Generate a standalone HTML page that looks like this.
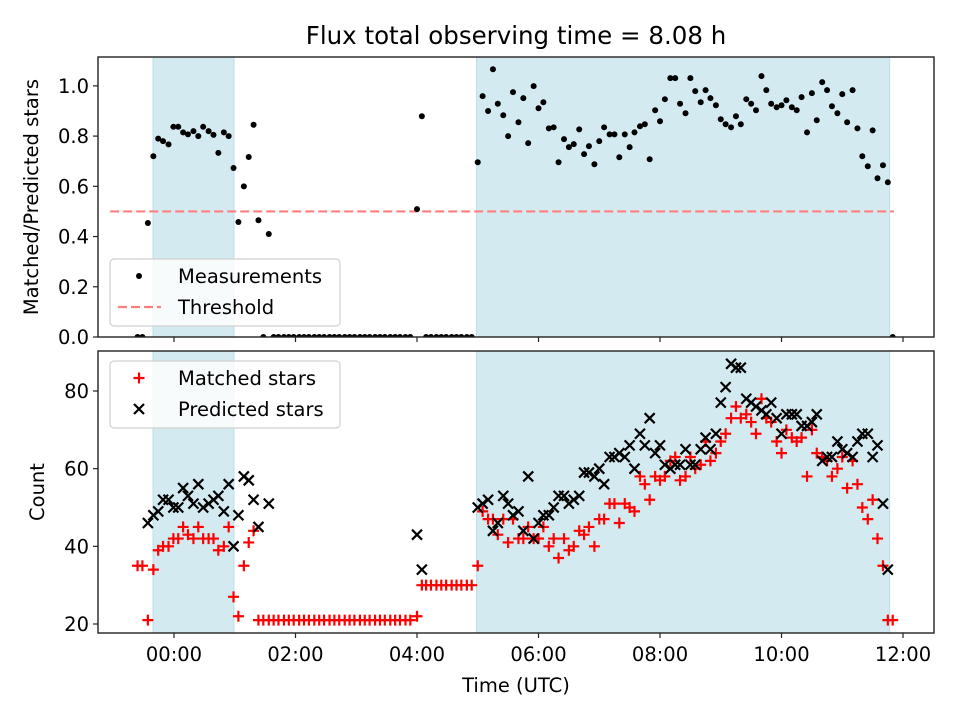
<!DOCTYPE html>
<html><head><meta charset="utf-8"><style>
html,body{margin:0;padding:0;background:#fff}
svg{display:block;font-family:"DejaVu Sans","Liberation Sans",sans-serif}
</style></head><body>
<svg id="chart" width="960" height="720" viewBox="0 0 960 720" xmlns="http://www.w3.org/2000/svg"></svg>
<script>
// ---- data ----
const times = [-0.60,-0.52,-0.43,-0.34,-0.26,-0.18,-0.09,-0.01,0.07,0.15,0.23,0.32,0.40,0.48,0.57,0.65,0.73,0.82,0.90,0.98,1.06,1.15,1.23,1.31,1.39,1.47,1.56,
1.64,1.72,1.81,1.89,1.97,2.06,2.14,2.22,2.31,2.39,2.47,2.56,2.64,2.72,2.81,2.89,2.97,3.06,3.14,3.22,3.31,3.39,3.47,3.56,3.64,3.72,3.81,3.89,
4.00,4.08,4.15,4.23,4.32,4.40,4.48,4.57,4.65,4.73,4.82,4.90,
5.00,5.08,5.17,5.25,5.33,5.42,5.50,5.58,5.67,5.75,5.83,5.92,6.00,6.08,6.17,6.25,6.33,6.42,6.50,6.58,6.67,6.75,6.83,6.92,7.00,7.08,7.17,7.25,7.33,7.42,7.50,7.58,7.67,7.75,7.83,7.92,8.00,8.08,8.17,8.25,8.33,8.42,8.50,8.58,8.67,8.75,8.83,8.92,9.00,9.08,9.17,9.25,9.33,9.42,9.50,9.58,9.67,9.75,9.83,9.92,10.00,10.08,10.17,10.25,10.33,10.42,10.50,10.58,10.67,10.75,10.83,10.92,11.00,11.08,11.17,11.25,11.33,11.42,11.50,11.58,11.67,11.75,11.83];
const ratio = [0,0,0.454,0.72,0.79,0.78,0.767,0.837,0.837,0.815,0.807,0.82,0.80,0.837,0.82,0.805,0.733,0.815,0.80,0.673,0.458,0.60,0.717,0.845,0.465,0,0.41,
0,0,0,0,0,0,0,0,0,0,0,0,0,0,0,0,0,0,0,0,0,0,0,0,0,0,0,0,
0.509,0.879,0,0,0,0,0,0,0,0,0,0,
0.696,0.959,0.90,1.066,0.929,0.883,0.80,0.975,0.855,0.951,0.772,0.999,0.911,0.935,0.831,0.835,0.696,0.788,0.756,0.768,0.827,0.728,0.76,0.688,0.78,0.835,0.807,0.807,0.716,0.807,0.756,0.815,0.839,0.847,0.708,0.903,0.859,0.947,1.031,1.031,0.929,0.891,1.031,0.979,0.935,0.983,0.951,0.923,0.867,0.847,0.835,0.879,0.847,0.947,0.929,0.903,1.039,0.983,0.929,0.915,0.923,0.943,0.915,0.903,0.955,0.815,0.971,0.863,1.015,0.983,0.919,0.891,0.967,0.855,0.983,0.831,0.72,0.68,0.823,0.632,0.684,0.616,0];
const matched = [35,35,21,34,39,40,40,42,42,45,43,42,45,42,42,42,39,40,45,27,22,35,41,44,21,21,21,
21,21,21,21,21,21,21,21,21,21,21,21,21,21,21,21,21,21,21,21,21,21,21,21,21,21,21,21,
22,30,30,30,30,30,30,30,30,30,30,30,
35,49,47,47,43,47,41,47,42,42,45,42,42,45,40,42,37,42,39,40,44,43,45,40,47,47,51,51,46,51,50,49,58,56,52,58,57,58,62,63,57,58,63,60,61,67,62,64,67,69,73,76,73,74,72,69,78,73,72,67,64,70,68,67,68,58,70,64,63,62,58,60,63,55,62,56,50,47,52,42,35,21,21];
const predicted = [null,null,46,48,49,52,52,50,50,55,53,51,56,50,51,52,53,49,56,40,48,58,57,52,45,null,51,
null,null,null,null,null,null,null,null,null,null,null,null,null,null,null,null,null,null,null,null,null,null,null,null,null,null,null,null,
43,34,null,null,null,null,null,null,null,null,null,null,
50,51,52,44,46,53,51,48,49,44,58,42,46,48,48,50,53,53,51,52,53,59,59,58,60,56,63,63,64,63,66,60,69,66,73,64,66,61,60,61,61,65,61,61,65,68,65,69,77,81,87,86,86,78,77,76,75,74,77,73,69,74,74,74,71,71,72,74,62,63,63,67,65,64,63,67,69,69,63,66,51,34,null];
const spans = [[-0.345,0.987],[4.98,11.78]];
const threshold = 0.5;
const xTickHours = [0,2,4,6,8,10,12];
const xTickLabels = ["00:00","02:00","04:00","06:00","08:00","10:00","12:00"];
const topTicks = [0,0.2,0.4,0.6,0.8,1.0];
const topTickLabels = ["0.0","0.2","0.4","0.6","0.8","1.0"];
const botTicks = [20,40,60,80];
const botTickLabels = ["20","40","60","80"];

// ---- layout ----
const NS="http://www.w3.org/2000/svg";
const svg=document.getElementById('chart');
const L=98,R=934,T1=57,B1=337,T2=351,B2=633;
const XMIN=-1.251,XMAX=12.51;
const x=h=>L+(h-XMIN)/(XMAX-XMIN)*(R-L);
const yTop=v=>B1-(v-0)/(1.115-0)*(B1-T1);
const yBot=v=>624-(v-20)*233/60;
function el(tag,attrs,parent){const e=document.createElementNS(NS,tag);for(const k in attrs)e.setAttribute(k,attrs[k]);(parent||svg).appendChild(e);return e;}
function txt(s,attrs,parent){const e=el('text',attrs,parent);e.textContent=s;return e;}

const title=txt("Flux total observing time = 8.08 h",{x:516,y:44,'text-anchor':'middle','font-size':24.5});



function panel(name,T,B,yf,ticks,labels,ylabel,ylx){
  const g=el('g',{});
  
  
  const clipId=name+'-clip';
  const cp=el('clipPath',{id:clipId},g);el('rect',{x:L,y:T,width:R-L,height:B-T},cp);
  spans.forEach((s,i)=>{
    const r=el('rect',{x:x(s[0]),y:T,width:x(s[1])-x(s[0]),height:B-T,fill:'#d4eaf1',stroke:'#bcdde7','stroke-width':1},g);
    
    
  });
  const data=el('g',{'clip-path':'url(#'+clipId+')'},g);
  el('rect',{x:L,y:T,width:R-L,height:B-T,fill:'none',stroke:'#222','stroke-width':1.4},g);
  ticks.forEach((v,i)=>{
    const yy=yf(v);
    el('line',{x1:L-5,x2:L,y1:yy,y2:yy,stroke:'#222','stroke-width':1.2},g);
    const t=txt(labels[i],{x:L-9,y:yy+7,'text-anchor':'end','font-size':19.5},g);
    
    
  });
  xTickHours.forEach(h=>{el('line',{x1:x(h),x2:x(h),y1:B,y2:B+5,stroke:'#222','stroke-width':1.2},g);});
  const yl=txt(ylabel,{x:ylx,y:(T+B)/2,'text-anchor':'middle','font-size':19.5,transform:`rotate(-90 ${ylx} ${(T+B)/2})`},g);
  
  
  return data;
}
const d1=panel('top-panel',T1,B1,yTop,topTicks,topTickLabels,'Matched/Predicted stars',38);
const d2=panel('bottom-panel',T2,B2,yBot,botTicks,botTickLabels,'Count',44);

// threshold
const th=el('line',{x1:x(-1.05),x2:x(11.85),y1:yTop(threshold),y2:yTop(threshold),stroke:'#ff7f7f','stroke-width':2.2,'stroke-dasharray':'9,4'},d1);


// measurements
times.forEach((t,i)=>{
  const c=el('circle',{cx:x(t),cy:yTop(ratio[i]),r:3,fill:'#000'},d1);
  
  
});
function plus(cx,cy,parent){const p=el('path',{d:`M${cx-5.5},${cy}H${cx+5.5}M${cx},${cy-5.5}V${cy+5.5}`,stroke:'#ff0000','stroke-width':2.2,fill:'none'},parent);return p;}
function cross(cx,cy,parent){const p=el('path',{d:`M${cx-5},${cy-5}L${cx+5},${cy+5}M${cx-5},${cy+5}L${cx+5},${cy-5}`,stroke:'#000','stroke-width':2.2,fill:'none'},parent);return p;}
times.forEach((t,i)=>{
  const p=plus(x(t),yBot(matched[i]),d2);
  
  
});
times.forEach((t,i)=>{
  if(predicted[i]===null)return;
  const p=cross(x(t),yBot(predicted[i]),d2);
  
  
});
// x tick labels
xTickHours.forEach((h,i)=>{
  const t=txt(xTickLabels[i],{x:x(h),y:B2+28,'text-anchor':'middle','font-size':19.5});
  
  
});
const xl=txt('Time (UTC)',{x:516,y:692,'text-anchor':'middle','font-size':19.5});



// legends
function legend(name,ly,entries){
  const g=el('g',{});
  
  
  el('rect',{x:110,y:ly,width:230,height:67,rx:4,fill:'#fff','fill-opacity':0.8,stroke:'#d0d0d0','stroke-width':1.2},g);
  entries.forEach((e,i)=>{
    const cy=ly+17+i*31;
    const ent=el('g',{},g);
    
    
    e.draw(ent,139,cy);
    txt(e.label,{x:178,y:cy+7,'font-size':19.5},ent);
  });
}
legend('top-legend',259,[
  {key:'measurements',label:'Measurements',draw:(g,cx,cy)=>el('circle',{cx:cx,cy:cy,r:3,fill:'#000'},g)},
  {key:'threshold',label:'Threshold',draw:(g,cx,cy)=>el('line',{x1:118,x2:161,y1:cy,y2:cy,stroke:'#ff7f7f','stroke-width':2.2,'stroke-dasharray':'9,4'},g)}
]);
legend('bottom-legend',361,[
  {key:'matched-stars',label:'Matched stars',draw:(g,cx,cy)=>plus(cx,cy,g)},
  {key:'predicted-stars',label:'Predicted stars',draw:(g,cx,cy)=>cross(cx,cy,g)}
]);
</script>
</body></html>
